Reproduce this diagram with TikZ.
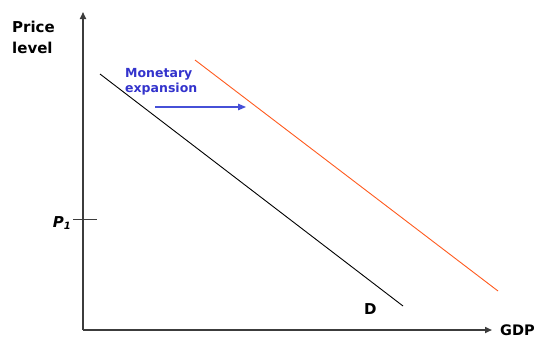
\documentclass[tikz,border=0pt]{standalone}
\usepackage{fontspec}
\setmainfont{DejaVu Sans}
\usetikzlibrary{arrows.meta}
\definecolor{mblue}{RGB}{51,51,204}
\definecolor{arrowblue}{RGB}{70,80,215}
\definecolor{morange}{RGB}{255,90,30}
\definecolor{axisgray}{RGB}{60,60,60}
\begin{document}
\begin{tikzpicture}[x=1pt,y=-1pt,
  axis/.style={axisgray,line width=1.6pt,-{Triangle[length=7pt,width=6pt]}},
  lbl/.style={font=\bfseries\fontsize{15}{21}\selectfont,inner sep=0pt},
  curve/.style={line width=0.9pt}]
\useasboundingbox (0,0) rectangle (539,338);
\coordinate (O) at (83,330);
\coordinate (ytop) at (83,12);
\coordinate (xend) at (492,330);
\draw[axis] (O) -- (ytop);
\draw[axis] (O) -- (xend);
\node[lbl,align=left,anchor=base west] (pl) at (12,53) {Price\\level};
\node[lbl,anchor=base west,font=\bfseries\fontsize{14.5}{17}\selectfont] (gdp) at (500,335) {GDP};
\coordinate (t1) at (73,219);
\coordinate (t2) at (97,219);
\draw[axisgray,line width=0.6pt] (t1) -- (t2);
\node[lbl,anchor=base east] (p1) at (71,227) {\itshape P\raisebox{-2pt}{\fontsize{10}{10}\selectfont 1}};
\coordinate (d1) at (100,74);
\coordinate (d2) at (403,306);
\draw[curve,black] (d1) -- (d2);
\coordinate (e1) at (195,60);
\coordinate (e2) at (498,291);
\draw[curve,morange] (e1) -- (e2);
\node[lbl,anchor=base west] (dl) at (364,314) {D};
\node[font=\bfseries\fontsize{12.5}{15}\selectfont,text=mblue,align=left,anchor=base west,inner sep=0pt] (me) at (125,92) {Monetary\\expansion};
\coordinate (a1) at (155,107);
\coordinate (a2) at (246,107);
\draw[arrowblue,line width=1.2pt,-{Triangle[length=8pt,width=6.5pt]}] (a1) -- (a2);
\end{tikzpicture}
\end{document}
